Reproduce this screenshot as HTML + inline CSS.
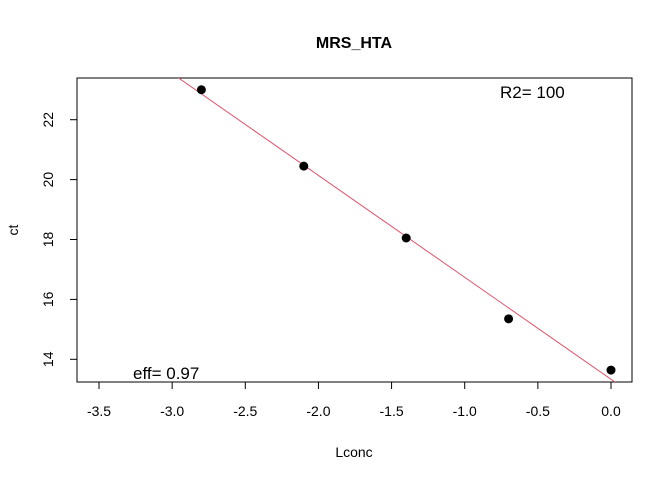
<!DOCTYPE html>
<html><head><meta charset="utf-8"><style>body{margin:0;background:#fff}svg{display:block}text{font-family:"Liberation Sans",Arial,sans-serif}</style></head>
<body>
<svg id="chart" width="672" height="480" xmlns="http://www.w3.org/2000/svg">
<text x="354" y="48" text-anchor="middle" font-size="16" font-weight="bold">MRS_HTA</text>
<rect x="77" y="78" width="555" height="304" fill="none" stroke="#000" stroke-width="1"/>
<g id="xaxis"></g>
<g id="yaxis"></g>
<g id="marks"></g>
<text x="354" y="457" text-anchor="middle" font-size="14">Lconc</text>
<text x="0" y="0" transform="translate(18,230) rotate(-90)" text-anchor="middle" font-size="14">ct</text>
<text x="500" y="98" font-size="17">R2= 100</text>
<text x="133" y="379" font-size="17">eff= 0.97</text>
</svg>
<script>
const lconc=[-2.8,-2.1,-1.4,-0.7,0.0];
const ct=[23.0,20.45,18.05,15.35,13.64];
const xTicks=[-3.5,-3.0,-2.5,-2.0,-1.5,-1.0,-0.5,0.0];
const xTickLabels=["-3.5","-3.0","-2.5","-2.0","-1.5","-1.0","-0.5","0.0"];
const yTicks=[14,16,18,20,22];
const yTickLabels=["14","16","18","20","22"];
const NS="http://www.w3.org/2000/svg";
const X=v=>99+(v+3.5)*(611-99)/3.5;
const Y=v=>359.3-(v-14)*(359.3-119.7)/8;
function mk(t,a,p){const e=document.createElementNS(NS,t);for(const k in a)e.setAttribute(k,a[k]);p.appendChild(e);return e;}
const xa=document.getElementById('xaxis'),ya=document.getElementById('yaxis'),mg=document.getElementById('marks');
mk('line',{x1:X(xTicks[0]),x2:X(xTicks[xTicks.length-1]),y1:382,y2:382,stroke:'#000'},xa);
xTicks.forEach((v,i)=>{const l=mk('line',{x1:X(v),x2:X(v),y1:382,y2:389,stroke:'#000'},xa);


const t=mk('text',{x:X(v),y:416,'text-anchor':'middle','font-size':'14'},xa);t.textContent=xTickLabels[i];

});
mk('line',{x1:77,x2:77,y1:Y(yTicks[0]),y2:Y(yTicks[yTicks.length-1]),stroke:'#000'},ya);
yTicks.forEach((v,i)=>{const l=mk('line',{x1:70,x2:77,y1:Y(v),y2:Y(v),stroke:'#000'},ya);


const t=mk('text',{x:0,y:0,transform:`translate(53,${Y(v)}) rotate(-90)`,'text-anchor':'middle','font-size':'14'},ya);t.textContent=yTickLabels[i];

});
const n=lconc.length,mx=lconc.reduce((a,b)=>a+b)/n,my=ct.reduce((a,b)=>a+b)/n;
let sxy=0,sxx=0;for(let i=0;i<n;i++){sxy+=(lconc[i]-mx)*(ct[i]-my);sxx+=(lconc[i]-mx)**2;}
const slope=sxy/sxx,icpt=my-slope*mx;
const xl=-3.65,xr=0.15;
const clip=mk('clipPath',{id:'pc'},mg);mk('rect',{x:77,y:78,width:555,height:304},clip);
const fl=mk('line',{x1:X(xl),y1:Y(icpt+slope*xl),x2:X(xr),y2:Y(icpt+slope*xr),stroke:'#df536b','stroke-width':1,'clip-path':'url(#pc)'},mg);


lconc.forEach((v,i)=>{const c=mk('circle',{cx:X(v),cy:Y(ct[i]),r:4.5,fill:'#000'},mg);

});
</script>
</body></html>
